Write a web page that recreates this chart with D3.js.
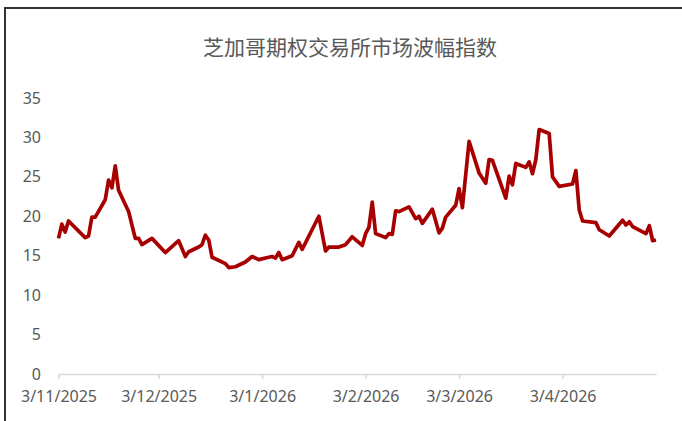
<html>
<head>
<meta charset="utf-8">
<script src="https://d3js.org/d3.v7.min.js"></script>
<style>
body { margin: 0; background: white; }
text { font-family: "Noto Sans", sans-serif; }
</style>
</head>
<body>
<svg width="682" height="421"></svg>
<script>
var title = "芝加哥期权交易所市场波幅指数"
var dates = ["2025-11-03","2025-11-04","2025-11-05","2025-11-06","2025-11-11","2025-11-12","2025-11-13","2025-11-14",
  "2025-11-17","2025-11-18","2025-11-19","2025-11-20","2025-11-21","2025-11-24","2025-11-26","2025-11-27","2025-11-28",
  "2025-12-01","2025-12-05","2025-12-09","2025-12-11","2025-12-12","2025-12-15","2025-12-16","2025-12-17","2025-12-18",
  "2025-12-19","2025-12-23","2025-12-24","2025-12-26","2025-12-29","2025-12-31",
  "2026-01-02","2026-01-05","2026-01-06","2026-01-07","2026-01-08","2026-01-09","2026-01-12","2026-01-14","2026-01-15",
  "2026-01-20","2026-01-22","2026-01-23","2026-01-26","2026-01-28","2026-01-30",
  "2026-02-02","2026-02-03","2026-02-04","2026-02-05","2026-02-06","2026-02-09","2026-02-10","2026-02-11","2026-02-12",
  "2026-02-13","2026-02-16","2026-02-18","2026-02-19","2026-02-20","2026-02-23","2026-02-25","2026-02-26","2026-02-27",
  "2026-03-02","2026-03-03","2026-03-04","2026-03-06","2026-03-09","2026-03-11","2026-03-12","2026-03-13","2026-03-17",
  "2026-03-18","2026-03-19","2026-03-20","2026-03-23","2026-03-24","2026-03-25","2026-03-26","2026-03-27","2026-03-30",
  "2026-03-31","2026-04-02","2026-04-06","2026-04-07","2026-04-08","2026-04-09","2026-04-13","2026-04-14","2026-04-17",
  "2026-04-21","2026-04-22","2026-04-23","2026-04-24","2026-04-28","2026-04-29","2026-04-30","2026-05-01"]
var vix = [17.2,19.0,18.0,19.4,17.3,17.5,19.9,19.9,
  22.1,24.6,23.6,26.4,23.3,20.6,17.2,17.2,16.4,
  17.2,15.4,16.9,14.9,15.5,16.1,16.4,17.6,17.0,
  14.8,14.0,13.5,13.6,14.2,14.9,
  14.5,14.8,14.9,14.7,15.4,14.5,15.0,16.7,15.8,
  20.0,15.6,16.1,16.1,16.4,17.4,
  16.3,17.8,18.6,21.8,17.8,17.3,17.8,17.7,20.7,
  20.6,21.2,19.7,20.0,19.1,20.9,17.9,18.5,19.9,
  21.4,23.5,21.1,29.5,25.5,24.2,27.2,27.1,22.3,
  25.1,24.0,26.7,26.2,26.9,25.4,27.2,31.0,30.5,
  25.0,23.8,24.1,25.8,20.8,19.4,19.2,18.3,17.5,
  19.5,18.9,19.3,18.7,17.8,18.8,16.9,17.0]
var tickDates = ["2025-11-03","2025-12-03","2026-01-03","2026-02-03","2026-03-03","2026-04-03"]
var yTicks = [0,5,10,15,20,25,30,35]

var parse = d3.timeParse("%Y-%m-%d")
var data = dates.map(function(d,i) { return {date: parse(d), value: vix[i]} })

var svg = d3.select("svg")

// outer chart border (box continues past the picture edge)
svg.append("rect").attr("x",5).attr("y",8).attr("width",720).attr("height",460)
  .attr("fill","none").attr("stroke","#333").attr("stroke-width",2)

svg.append("text").attr("x",350).attr("y",55).attr("text-anchor","middle")
  .style("font-family","'Noto Sans CJK SC', sans-serif").style("font-size","21px")
  .attr("fill","#595959").text(title)

var x = d3.scaleTime().domain([parse("2025-11-03"), parse("2026-05-01")]).range([58.5, 656])
var y = d3.scaleLinear().domain([0,35]).range([374,98])

var xAxis = svg.append("g").attr("transform","translate(0,374)")
  .call(d3.axisBottom(x).tickValues(tickDates.map(parse)).tickFormat(d3.timeFormat("%-d/%-m/%Y"))
    .tickSize(5).tickSizeOuter(0).tickPadding(12))
xAxis.select(".domain").attr("stroke","#d9d9d9").attr("stroke-width",1.5)
xAxis.selectAll(".tick line").attr("stroke","#d9d9d9").attr("stroke-width",1.5)
xAxis.selectAll("text").attr("fill","#595959").style("font-size","16px").style("font-family","'Noto Sans', sans-serif")

var yAxis = svg.append("g").attr("transform","translate(58,0)")
  .call(d3.axisLeft(y).tickValues(yTicks).tickSize(0).tickPadding(17))
yAxis.select(".domain").remove()
yAxis.selectAll("text").attr("fill","#595959").style("font-size","16px").style("font-family","'Noto Sans', sans-serif")

var line = d3.line().x(function(d) { return x(d.date) }).y(function(d) { return y(d.value) })
svg.append("path").datum(data).attr("d", line)
  .attr("fill","none").attr("stroke","#a80000").attr("stroke-width",3.7)
  .attr("stroke-linejoin","round").attr("stroke-linecap","butt")
</script>
</body>
</html>
